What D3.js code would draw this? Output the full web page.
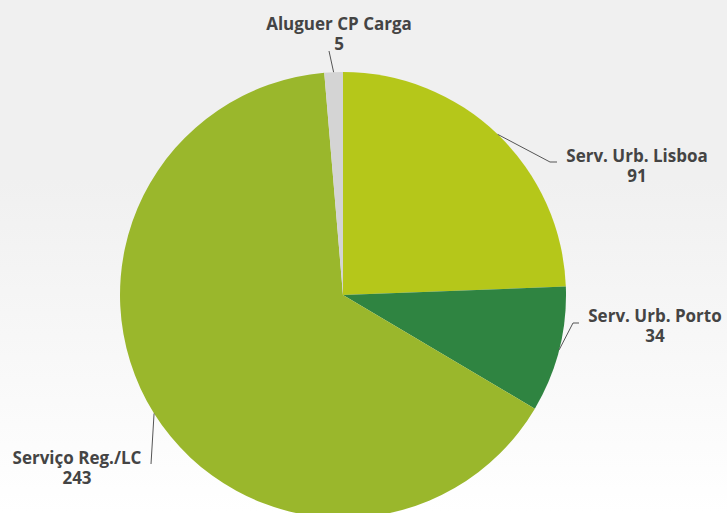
<!DOCTYPE html>
<html><head><meta charset="utf-8">
<script src="https://cdn.jsdelivr.net/npm/d3@7"></script>
<style>html,body{margin:0;padding:0;overflow:hidden;}</style>
</head><body>
<svg id="chart" width="727" height="513"></svg>
<script>
const categories = ["Serv. Urb. Lisboa", "Serv. Urb. Porto", "Serviço Reg./LC", "Aluguer CP Carga"];
const values = [91, 34, 243, 5];
const colors = ["#b5c71a", "#2f8441", "#9ab72c", "#d4d4d4"];

// label layout: connector elbow and text anchor offsets (presentation only)
const labelLayout = [
  {elbow: [550, 162], end: [557, 162], tx: 637, ty: 162},
  {elbow: [573, 323], end: [579, 323], tx: 655, ty: 322},
  {elbow: [151, 464], end: [151, 464], tx: 77, ty: 464},
  {elbow: [329, 51], end: [329, 51], tx: 339, ty: 30}
];

const W = 727, H = 513, cx = 343, cy = 295, R = 223;
const svg = d3.select("#chart");
const defs = svg.append("defs");
const grad = defs.append("linearGradient").attr("id", "bg").attr("x1", 0).attr("y1", 0).attr("x2", 0).attr("y2", 1);
grad.append("stop").attr("offset", "0.35").attr("stop-color", "#f0f0f0");
grad.append("stop").attr("offset", "1").attr("stop-color", "#ffffff");
svg.append("rect").attr("width", W).attr("height", H).attr("fill", "url(#bg)");

const data = categories.map((c, i) => ({name: c, value: values[i], color: colors[i], i}));
const pie = d3.pie().value(d => d.value).sort(null);
const arcs = pie(data);
const arc = d3.arc().innerRadius(0).outerRadius(R);

const g = svg.append("g").attr("transform", `translate(${cx},${cy})`);
g.selectAll("path").data(arcs).join("path")
  .attr("d", arc).attr("fill", d => d.data.color);

const font = "'Open Sans', sans-serif";
arcs.forEach((a, i) => {
  const m = (a.startAngle + a.endAngle) / 2;
  const ex = cx + R * Math.sin(m), ey = cy - R * Math.cos(m);
  const L = labelLayout[i];
  svg.append("polyline")
    .attr("points", [[ex, ey], L.elbow, L.end].map(p => p.join(",")).join(" "))
    .attr("fill", "none").attr("stroke", "#555").attr("stroke-width", 1);
  const t = svg.append("text").attr("x", L.tx).attr("y", L.ty)
    .attr("text-anchor", "middle").attr("font-family", font)
    .attr("font-weight", 700).attr("font-size", 17).attr("fill", "#444");
  t.append("tspan").attr("x", L.tx).text(a.data.name);
  t.append("tspan").attr("x", L.tx).attr("dy", 19.5).text(d3.format("d")(a.data.value));
});
</script>
</body></html>
